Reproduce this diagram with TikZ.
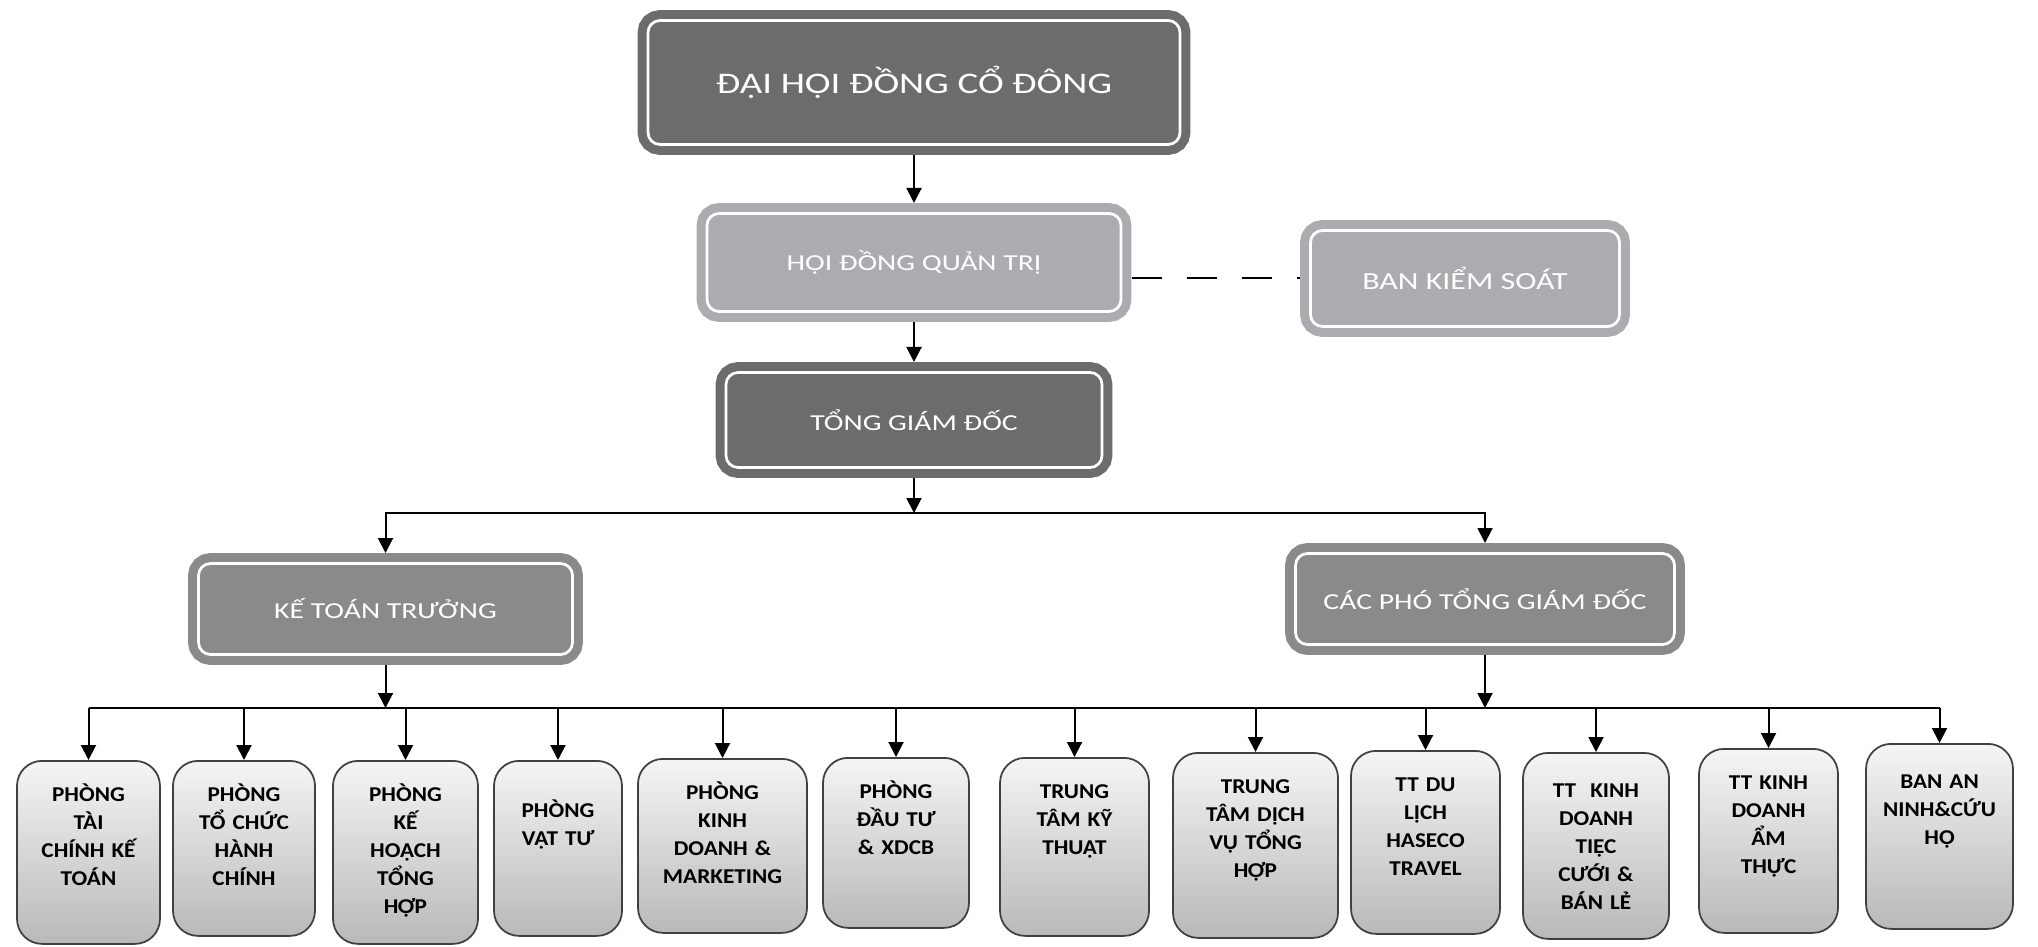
\documentclass[tikz,border=0pt]{standalone}
\usepackage{fontspec}
\setmainfont{Carlito}
\newfontfamily\headfont[FakeStretch=1.3]{Carlito}
\newfontfamily\deptfont[FakeStretch=1.1]{Carlito}
\usetikzlibrary{arrows.meta, calc, positioning}

\definecolor{darkbox}{RGB}{108,108,108}
\definecolor{midbox}{RGB}{138,138,138}
\definecolor{lightbox}{RGB}{172,172,176}

\begin{document}
\begin{tikzpicture}[>={Triangle[length=3mm, width=3mm]}, x=0.2mm, y=-0.2mm,
        headbox/.style={draw=#1, fill=#1, double=white, double distance=0.55mm, line width=1.8mm,
            rounded corners=2.4mm, inner sep=0pt, outer sep=2.1mm, text=white,
            font=\headfont\fontsize{13}{16}\selectfont},
        dept/.style={draw=black!75, line width=0.35mm, rounded corners=5mm, top color=gray!8,
            bottom color=gray!55, anchor=north, inner sep=0pt, align=center, text height=8.2mm,
            font=\deptfont\bfseries\fontsize{12}{15.9}\selectfont},
        link/.style={line width=0.4mm}]

            \useasboundingbox (0,0) rectangle (2038,947);

            % Draw the board levels
            \node[headbox=darkbox, minimum width=106.4mm, minimum height=24.8mm, font=\headfont\fontsize{17}{20}\selectfont] (dhdcd) at (914,82.5) {ĐẠI HỘI ĐỒNG CỔ ĐÔNG};
            \node[headbox=lightbox, minimum width=82.8mm, minimum height=19.6mm] (hdqt) at (914,262.5) {HỘI ĐỒNG QUẢN TRỊ};
            \node[headbox=lightbox, minimum width=61.8mm, minimum height=19.2mm, font=\headfont\fontsize{14}{17}\selectfont] (bks) at (1465,278.5) {BAN KIỂM SOÁT};
            \node[headbox=darkbox, minimum width=75.2mm, minimum height=19mm] (tgd) at (914,420) {TỔNG GIÁM ĐỐC};

            % Draw the two branches
            \node[headbox=midbox, minimum width=74.8mm, minimum height=18.2mm] (ktt) at (385.5,609) {KẾ TOÁN TRƯỞNG};
            \node[headbox=midbox, minimum width=75.8mm, minimum height=18.2mm] (cptgd) at (1485,599) {CÁC PHÓ TỔNG GIÁM ĐỐC};

            % Draw the departments
            \node[dept, text width=28.6mm, text depth=28.4mm] (d1) at (88.5,760) {PHÒNG\\TÀI\\CHÍNH KẾ\\TOÁN};
            \node[dept, text width=28.4mm, text depth=26.8mm] (d2) at (244,760) {PHÒNG\\TỔ CHỨC\\HÀNH\\CHÍNH};
            \node[dept, text width=29mm, text depth=28.4mm] (d3) at (405.5,760) {PHÒNG\\KẾ\\HOẠCH\\TỔNG\\HỢP};
            \node[dept, text width=25.6mm, text height=11.4mm, text depth=23.6mm] (d4) at (558,760) {PHÒNG\\VẬT TƯ};
            \node[dept, text width=33.8mm, text depth=26.6mm] (d5) at (722.5,758) {PHÒNG\\KINH\\DOANH \&\\MARKETING};
            \node[dept, text width=29.2mm, text depth=25.8mm] (d6) at (896,757) {PHÒNG\\ĐẦU TƯ\\\& XDCB};
            \node[dept, text width=29.8mm, text depth=27.4mm] (d7) at (1074.5,757) {TRUNG\\TÂM KỸ\\THUẬT};
            \node[dept, text width=33mm, text depth=28.8mm] (d8) at (1255.5,752) {TRUNG\\TÂM DỊCH\\VỤ TỔNG\\HỢP};
            \node[dept, text width=29.8mm, text depth=28.4mm] (d9) at (1425.5,750) {TT DU\\LỊCH\\HASECO\\TRAVEL};
            \node[dept, text width=29.2mm, text height=9mm, text depth=28.2mm] (d10) at (1596,752) {TT~~KINH\\DOANH\\TIỆC\\CƯỚI \&\\BÁN LẺ};
            \node[dept, text width=27.8mm, text depth=28.6mm] (d11) at (1768.5,748) {TT KINH\\DOANH\\ẨM\\THỰC};
            \node[dept, text width=29.4mm, text height=9mm, text depth=28mm] (d12) at (1939.5,743) {BAN AN\\NINH\&CỨU\\HỘ};

            % Arrows down the main line
            \draw[link, ->] (dhdcd) -- (hdqt);
            \draw[link, ->] (hdqt) -- (tgd);
            \draw[link, dash pattern=on 6mm off 5mm] (bks.west -| hdqt.east) -- (bks.west);

            % Arrows from the general director to the branches
            \coordinate (split1) at (914,513);
            \draw[link, ->] (tgd) -- (split1);
            \draw[link, ->] (split1) -| (ktt);
            \draw[link, ->] (split1) -| (cptgd);

            % Arrows from the branches to the bus
            \coordinate (split2) at (914,708);
            \draw[link, ->] (ktt) -- (ktt |- split2);
            \draw[link, ->] (cptgd) -- (cptgd |- split2);
            \draw[link] (d1.north |- split2) -- (d12.north |- split2);

            % Arrows from the bus to the departments
            \draw[link, ->] (d1.north |- split2) -- (d1);
            \draw[link, ->] (d2.north |- split2) -- (d2);
            \draw[link, ->] (d3.north |- split2) -- (d3);
            \draw[link, ->] (d4.north |- split2) -- (d4);
            \draw[link, ->] (d5.north |- split2) -- (d5);
            \draw[link, ->] (d6.north |- split2) -- (d6);
            \draw[link, ->] (d7.north |- split2) -- (d7);
            \draw[link, ->] (d8.north |- split2) -- (d8);
            \draw[link, ->] (d9.north |- split2) -- (d9);
            \draw[link, ->] (d10.north |- split2) -- (d10);
            \draw[link, ->] (d11.north |- split2) -- (d11);
            \draw[link, ->] (d12.north |- split2) -- (d12);

        \end{tikzpicture}
\end{document}
